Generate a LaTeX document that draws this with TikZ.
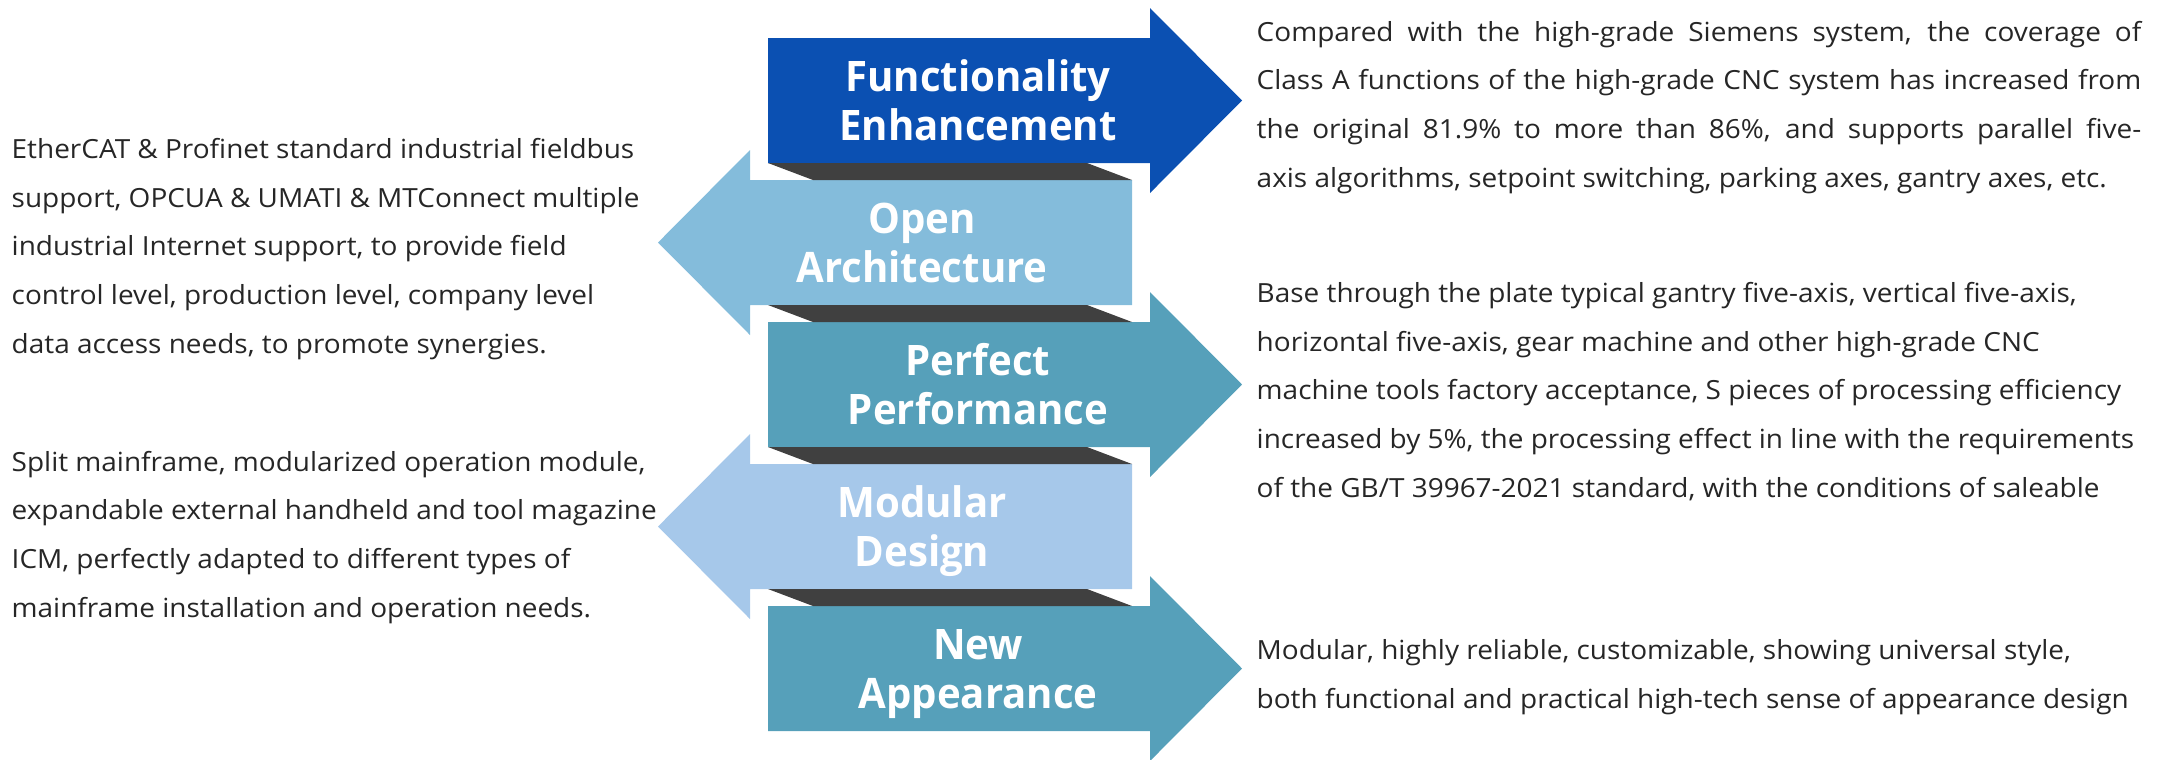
\documentclass[tikz,border=0pt]{standalone}
\usepackage{fontspec}
\setmainfont{Open Sans}
\newfontfamily\arrowfont[FakeStretch=0.955]{Open Sans}
\newfontfamily\notefont[FakeStretch=1.06]{Open Sans}

\definecolor{fblue}{RGB}{11,80,178}
\definecolor{oblue}{RGB}{132,188,219}
\definecolor{pteal}{RGB}{86,160,186}
\definecolor{mblue}{RGB}{166,200,234}
\definecolor{foldgray}{RGB}{64,64,64}
\definecolor{notegray}{RGB}{38,38,38}

\tikzset{
  arrowtext/.style={text=white,inner sep=0pt,anchor=base,align=center,
    font=\arrowfont\fontsize{11.95pt}{13.8pt}\selectfont\bfseries},
  note/.style={text=notegray,inner sep=0pt,anchor=base west,align=left,
    font=\notefont\fontsize{7.5pt}{13.8pt}\selectfont},
  fold/.style={fill=foldgray}
}

\begin{document}
\begin{tikzpicture}[x=0.01cm,y=-0.01cm]
\useasboundingbox (0,0) rectangle (2158,759);
% arrows, right and left in turn
\fill[fblue] (768,38) -- (1150,38) -- (1150,8) -- (1242,100.5) -- (1150,193) -- (1150,163) -- (768,163) -- cycle;
\fill[oblue] (1132,180) -- (750,180) -- (750,150) -- (658,242.5) -- (750,335) -- (750,305) -- (1132,305) -- cycle;
\fill[pteal] (768,322) -- (1150,322) -- (1150,292) -- (1242,384.5) -- (1150,477) -- (1150,447) -- (768,447) -- cycle;
\fill[mblue] (1132,464) -- (750,464) -- (750,434) -- (658,526.5) -- (750,619) -- (750,589) -- (1132,589) -- cycle;
\fill[pteal] (768,606) -- (1150,606) -- (1150,576) -- (1242,668.5) -- (1150,761) -- (1150,731) -- (768,731) -- cycle;
% dark folds between the bands
\foreach \y in {163,305,447,589}
  \fill[fold] (768,\y) -- (1087,\y) -- (1132,\y+17) -- (813,\y+17) -- cycle;

% base = last line
\node[arrowtext] (fe) at (978,140) {Functionality\\Enhancement};
\node[arrowtext] (oa) at (922,282) {Open\\Architecture};
\node[arrowtext] (pp) at (978,424) {Perfect\\Performance};
\node[arrowtext] (md) at (922,566) {Modular\\Design};
\node[arrowtext] (na) at (978,708) {New\\Appearance};

% notes left
\node[note] (oa-note) at (11,353) {EtherCAT \& Profinet standard industrial fieldbus\\
  support, OPCUA \& UMATI \& MTConnect multiple\\
  industrial Internet support, to provide field\\
  control level, production level, company level\\
  data access needs, to promote synergies.};
\node[note] (md-note) at (11,617) {Split mainframe, modularized operation module,\\
  expandable external handheld and tool magazine\\
  ICM, perfectly adapted to different types of\\
  mainframe installation and operation needs.};

% notes right
\node[note] (fe-note) at (1256,187) {\makebox[8.84cm][s]{Compared with the high-grade Siemens system, the coverage of}\\
  \makebox[8.84cm][s]{Class A functions of the high-grade CNC system has increased from}\\
  \makebox[8.84cm][s]{the original 81.9\% to more than 86\%, and supports parallel five-}\\
  axis algorithms, setpoint switching, parking axes, gantry axes, etc.};
\node[note] (pp-note) at (1256,497) {Base through the plate typical gantry five-axis, vertical five-axis,\\
  horizontal five-axis, gear machine and other high-grade CNC\\
  machine tools factory acceptance, S pieces of processing efficiency\\
  increased by 5\%, the processing effect in line with the requirements\\
  of the GB/T 39967-2021 standard, with the conditions of saleable};
\node[note] (na-note) at (1256,708) {Modular, highly reliable, customizable, showing universal style,\\
  both functional and practical high-tech sense of appearance design};
\end{tikzpicture}
\end{document}
